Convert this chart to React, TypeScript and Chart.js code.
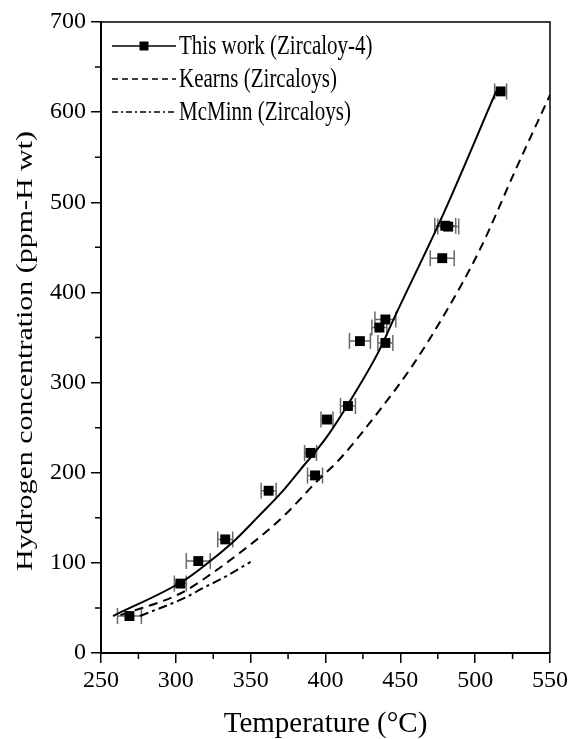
import React, { useEffect, useRef } from 'react';
import { Chart, registerables } from 'chart.js';

Chart.register(...registerables);

// Measured data (This work, Zircaloy-4)
const tempC = [269, 303, 315, 333, 362, 390, 393, 401, 415, 423, 436, 440, 440, 478, 480, 482, 517];
const hydrogen = [41, 77, 102, 126, 180, 222, 197, 259, 274, 346, 361, 370, 344, 438, 474, 473, 623];
const tempErr = [8, 4, 8, 5, 5, 4, 5, 4, 5, 7, 5, 7, 5, 8, 7, 7, 4];

// Fitted curve (This work)
const fitTemp = [258, 306, 323, 340, 356, 370, 383, 401, 421, 436, 446, 479, 514];
const fitH = [41, 81, 102, 126, 153, 177, 203, 240, 292, 336, 372, 488, 623];

// Kearns (Zircaloys)
const kearnsTemp = [263, 303, 323, 345, 360, 374, 394, 410, 436, 459, 481, 503, 527, 550];
const kearnsH = [42, 66, 87, 114, 134, 155, 190, 216, 269, 321, 380, 447, 536, 619];

// McMinn (Zircaloys)
const mcminnTemp = [276, 307, 318, 329, 350];
const mcminnH = [41, 62, 72, 81, 101];

const xMinorTicks = [275, 325, 375, 425, 475, 525];
const yMinorTicks = [50, 150, 250, 350, 450, 550, 650];

const legendLabels = ['This work (Zircaloy-4)', 'Kearns (Zircaloys)', 'McMinn (Zircaloys)'];
const yTitle = 'Hydrogen concentration (ppm-H wt)';

const FONT = '"Liberation Serif", "DejaVu Serif", "Times New Roman", serif';

const toXY = (xs: number[], ys: number[]) => xs.map((x, i) => ({ x, y: ys[i] }));

const errorBarPlugin = {
  id: 'errorBars',
  beforeDatasetsDraw(chart: any) {
    const meta = chart.getDatasetMeta(0);
    const xs = chart.scales.x;
    const ctx = chart.ctx;
    ctx.save();
    ctx.strokeStyle = '#6a6a6a';
    ctx.lineWidth = 1.5;
    meta.data.forEach((pt: any, i: number) => {
      const x1 = xs.getPixelForValue(tempC[i] - tempErr[i]);
      const x2 = xs.getPixelForValue(tempC[i] + tempErr[i]);
      const y = pt.y;
      ctx.beginPath();
      ctx.moveTo(x1, y);
      ctx.lineTo(x2, y);
      ctx.moveTo(x1, y - 8);
      ctx.lineTo(x1, y + 8);
      ctx.moveTo(x2, y - 8);
      ctx.lineTo(x2, y + 8);
      ctx.stroke();
    });
    ctx.restore();
  },
};

const framePlugin = {
  id: 'frameMinor',
  afterDraw(chart: any) {
    const { ctx, chartArea } = chart;
    const { left, right, top, bottom } = chartArea;
    const xs = chart.scales.x;
    const ys = chart.scales.y;
    ctx.save();
    ctx.strokeStyle = '#000';
    ctx.lineWidth = 1.5;
    ctx.beginPath();
    ctx.moveTo(left, top);
    ctx.lineTo(right, top);
    ctx.lineTo(right, bottom);
    ctx.stroke();
    ctx.beginPath();
    xMinorTicks.forEach((v) => {
      const x = xs.getPixelForValue(v);
      ctx.moveTo(x, bottom);
      ctx.lineTo(x, bottom + 6);
    });
    yMinorTicks.forEach((v) => {
      const y = ys.getPixelForValue(v);
      ctx.moveTo(left - 6, y);
      ctx.lineTo(left, y);
    });
    ctx.stroke();

    // Y axis title (slightly condensed, as in the reference)
    ctx.fillStyle = '#000';
    ctx.font = `23px ${FONT}`;
    ctx.textAlign = 'center';
    ctx.textBaseline = 'middle';
    const w = ctx.measureText(yTitle).width;
    ctx.save();
    ctx.translate(26, 351);
    ctx.rotate(-Math.PI / 2);
    ctx.scale(440 / w, 1);
    ctx.fillText(yTitle, 0, 0);
    ctx.restore();

    // Legend
    const x0 = 112;
    const x1 = 176;
    const rows = [46, 79, 112];
    const dashes = [[], [6, 4], [6, 3, 2, 3]];
    ctx.font = `21px ${FONT}`;
    ctx.textBaseline = 'middle';
    ctx.textAlign = 'left';
    rows.forEach((y, i) => {
      ctx.setLineDash(dashes[i]);
      ctx.lineWidth = 1.5;
      ctx.beginPath();
      ctx.moveTo(x0, y);
      ctx.lineTo(x1, y);
      ctx.stroke();
      ctx.setLineDash([]);
      if (i === 0) {
        ctx.fillRect((x0 + x1) / 2 - 4.5, y - 4.5, 9, 9);
      }
      ctx.save();
      ctx.translate(x1 + 3, y + 1);
      ctx.scale(1, 1.25);
      ctx.fillText(legendLabels[i], 0, 0);
      ctx.restore();
    });
    ctx.restore();
  },
};

export default function App() {
  const ref = useRef<HTMLCanvasElement | null>(null);

  useEffect(() => {
    if (!ref.current) return;
    const chart = new Chart(ref.current, {
      type: 'scatter',
      data: {
        datasets: [
          {
            label: legendLabels[0],
            data: toXY(tempC, hydrogen),
            showLine: false,
            pointStyle: 'rect',
            pointRadius: 7,
            pointBackgroundColor: '#000',
            pointBorderColor: '#000',
            pointBorderWidth: 0,
          },
          {
            label: 'fit',
            data: toXY(fitTemp, fitH),
            showLine: true,
            borderColor: '#000',
            borderWidth: 2,
            pointRadius: 0,
            cubicInterpolationMode: 'monotone',
          },
          {
            label: legendLabels[1],
            data: toXY(kearnsTemp, kearnsH),
            showLine: true,
            borderColor: '#000',
            borderWidth: 2,
            borderDash: [9, 6],
            pointRadius: 0,
            cubicInterpolationMode: 'monotone',
          },
          {
            label: legendLabels[2],
            data: toXY(mcminnTemp, mcminnH),
            showLine: true,
            borderColor: '#000',
            borderWidth: 2,
            borderDash: [9, 4, 3, 4],
            pointRadius: 0,
            cubicInterpolationMode: 'monotone',
          },
        ],
      } as any,
      options: {
        animation: false,
        responsive: false,
        layout: { padding: { left: 0, top: 22, right: 22, bottom: 0 } },
        plugins: {
          legend: { display: false },
          tooltip: { enabled: false },
        },
        scales: {
          x: {
            type: 'linear',
            min: 250,
            max: 550,
            afterFit: (s: any) => {
              s.height = 86;
            },
            ticks: {
              stepSize: 50,
              color: '#000',
              padding: 3,
              font: { family: FONT, size: 24 },
            },
            grid: {
              drawOnChartArea: false,
              drawTicks: true,
              tickLength: 10,
              color: '#000',
              lineWidth: 1.5,
            },
            border: { display: true, color: '#000', width: 2 },
            title: {
              display: true,
              text: 'Temperature (°C)',
              color: '#000',
              padding: { top: 0, bottom: 0 },
              font: { family: FONT, size: 29, lineHeight: 1 },
            },
          },
          y: {
            type: 'linear',
            min: 0,
            max: 700,
            afterFit: (s: any) => {
              s.width = 101;
            },
            ticks: {
              stepSize: 100,
              color: '#000',
              padding: 5,
              font: { family: FONT, size: 24 },
            },
            grid: {
              drawOnChartArea: false,
              drawTicks: true,
              tickLength: 10,
              color: '#000',
              lineWidth: 1.5,
            },
            border: { display: true, color: '#000', width: 2 },
            title: { display: false },
          },
        },
      } as any,
      plugins: [errorBarPlugin, framePlugin],
    });
    return () => chart.destroy();
  }, []);

  return (
    <div style={{ position: 'absolute', left: 0, top: 0, width: 572, height: 739, background: '#fff' }}>
      <canvas ref={ref} width={572} height={739} />
    </div>
  );
}
